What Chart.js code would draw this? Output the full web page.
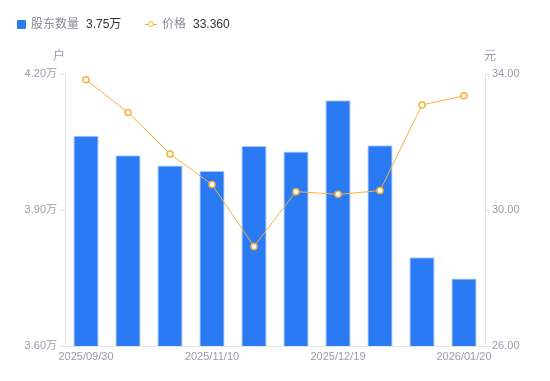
<!DOCTYPE html>
<html>
<head>
<meta charset="utf-8">
<script src="https://cdn.jsdelivr.net/npm/chart.js@4/dist/chart.umd.min.js"></script>
<style>
  html, body { margin: 0; padding: 0; background: #fff; }
  #wrap { position: relative; width: 550px; height: 381px; }
  #legend { position: absolute; left: 0; top: 14px; height: 20px; width: 550px;
            font-family: "Liberation Sans", "Noto Sans CJK SC", sans-serif; font-size: 12px; }
  .it { position: absolute; top: 3px; white-space: nowrap; line-height: 14px; }
  .lab { color: #8a8a99; }
  .val { color: #333; margin-left: 7px; }
  .sq { position: absolute; left: 17px; top: 6px; width: 9px; height: 9px; background: #2a7af3; border-radius: 1px; }
  .ln { position: absolute; left: 145px; top: 10px; width: 12px; height: 1px; background: #f8b03e; }
  .cir { position: absolute; left: 148px; top: 7px; width: 4px; height: 4px; border: 1.5px solid #f8b03e; border-radius: 50%; background: #fff; }
</style>
</head>
<body>
<div id="wrap">
  <canvas id="c" width="550" height="381"></canvas>
  <div id="legend">
    <div class="sq"></div>
    <div class="it" style="left:31px"><span class="lab">股东数量</span><span class="val">3.75万</span></div>
    <div class="ln"></div><div class="cir"></div>
    <div class="it" style="left:162px"><span class="lab">价格</span><span class="val">33.360</span></div>
  </div>
</div>
<script>
const categories = ["2025/09/30","2025/10/20","2025/10/31","2025/11/10","2025/11/20","2025/11/28","2025/12/19","2025/12/31","2026/01/09","2026/01/20"];
const holders = [4.064, 4.021, 3.998, 3.986, 4.041, 4.029, 4.142, 4.043, 3.796, 3.749];
const prices = [33.83, 32.87, 31.65, 30.75, 28.93, 30.54, 30.46, 30.57, 33.09, 33.36];
const leftTicks = [3.6, 3.9, 4.2];
const rightTicks = [26, 30, 34];
const shownLabelIdx = [0, 3, 6, 9];

const FONT = '"Liberation Sans", "Noto Sans CJK SC", sans-serif';
const GRAY = '#9a9aab';
const LINEC = '#e3e3e8';

const unitPlugin = {
  id: 'units',
  afterDraw(chart) {
    const ctx = chart.ctx, a = chart.chartArea;
    ctx.save();
    ctx.font = '12px ' + FONT;
    ctx.fillStyle = GRAY;
    ctx.textBaseline = 'middle';
    ctx.textAlign = 'center';
    ctx.fillText('户', a.left - 6, a.top - 17);
    ctx.fillText('元', a.right + 5, a.top - 17);
    ctx.restore();
  }
};

new Chart(document.getElementById('c'), {
  data: {
    labels: categories,
    datasets: [
      {
        type: 'line', label: '价格', data: prices, yAxisID: 'y1',
        borderColor: '#f8b03e', borderWidth: 1, backgroundColor: '#fff',
        pointRadius: 3, pointBorderWidth: 1.5, pointBackgroundColor: '#fff',
        pointBorderColor: '#f8b03e', tension: 0, order: 0
      },
      {
        type: 'bar', label: '股东数量', data: holders, yAxisID: 'y',
        backgroundColor: '#2a7af3', borderColor: '#a9c9fb', borderWidth: 1,
        categoryPercentage: 1, barPercentage: 0.6, order: 1
      }
    ]
  },
  options: {
    responsive: false, animation: false,
    layout: { padding: { top: 74, left: 0, right: 0, bottom: 0 } },
    plugins: { legend: { display: false }, tooltip: { enabled: false } },
    scales: {
      x: {
        grid: { display: false, drawTicks: false },
        border: { display: true, color: LINEC },
        ticks: {
          autoSkip: false, maxRotation: 0, padding: 4,
          color: GRAY, font: { family: FONT, size: 11 },
          callback: function (v, i) { return shownLabelIdx.includes(i) ? categories[i] : ''; }
        },
        afterFit(s) { s.height = 35; }
      },
      y: {
        position: 'left', min: 3.6, max: 4.2,
        afterBuildTicks(s) { s.ticks = leftTicks.map(v => ({ value: v })); },
        grid: { drawOnChartArea: false, drawTicks: true, tickLength: 5, color: LINEC },
        border: { display: true, color: LINEC },
        ticks: { color: GRAY, padding: 3, font: { family: FONT, size: 11 },
          callback: v => v.toFixed(2) + '万' },
        afterFit(s) { s.width = 65; }
      },
      y1: {
        position: 'right', min: 26, max: 34,
        afterBuildTicks(s) { s.ticks = rightTicks.map(v => ({ value: v })); },
        grid: { drawOnChartArea: false, drawTicks: true, tickLength: 5, color: LINEC },
        border: { display: true, color: LINEC },
        ticks: { color: GRAY, padding: 2, font: { family: FONT, size: 11 },
          callback: v => v.toFixed(2) },
        afterFit(s) { s.width = 65; }
      }
    }
  },
  plugins: [unitPlugin]
});
</script>
</body>
</html>
